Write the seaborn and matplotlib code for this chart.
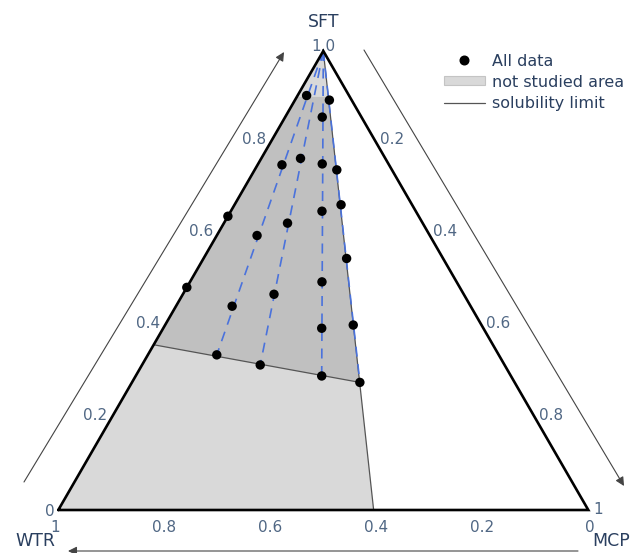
import numpy as np
import pandas as pd
import matplotlib
matplotlib.use("Agg")
import matplotlib.pyplot as plt
import seaborn as sns
from matplotlib.lines import Line2D
from matplotlib.patches import Patch, Polygon

# ---------------- data (ternary fractions) ----------------
sft = [0.903, 0.893, 0.856, 0.752, 0.766, 0.754, 0.741, 0.665, 0.651, 0.625, 0.640, 0.598,
       0.548, 0.485, 0.497, 0.470, 0.444, 0.403, 0.396, 0.338, 0.316, 0.292, 0.278]
mcp = [0.017, 0.065, 0.070, 0.046, 0.074, 0.121, 0.155, 0.201, 0.172, 0.120, 0.000, 0.076,
       0.270, 0.000, 0.249, 0.172, 0.106, 0.355, 0.299, 0.130, 0.223, 0.351, 0.430]
wtr = [0.080, 0.042, 0.074, 0.202, 0.160, 0.125, 0.104, 0.134, 0.177, 0.255, 0.360, 0.326,
       0.182, 0.515, 0.254, 0.358, 0.450, 0.242, 0.305, 0.532, 0.461, 0.357, 0.292]

# not studied area (light) : WTR vertex, SFT vertex, solubility foot on the base
area_sft = [0.0, 1.0, 0.0]
area_mcp = [0.0, 0.0, 0.595]
# studied (darker) region
studied_sft = [0.36, 0.278, 0.90, 0.90]
studied_mcp = [0.0, 0.430, 0.06, 0.0]
# solubility limit lines
sol_right_sft = [1.0, 0.0]
sol_right_mcp = [0.0, 0.595]
sol_bottom_sft = [0.36, 0.278]
sol_bottom_mcp = [0.0, 0.430]
# dashed dilution lines : from SFT apex to these end points
dash_end_sft = [0.338, 0.316, 0.292, 0.278]
dash_end_mcp = [0.130, 0.223, 0.351, 0.430]

tick_values = [0.2, 0.4, 0.6, 0.8]
tick_labels = ["0.2", "0.4", "0.6", "0.8"]

H = np.sqrt(3) / 2


def cart(s, m):
    s = np.asarray(s, float)
    m = np.asarray(m, float)
    return m + s / 2, s * H


# ---------------- figure ----------------
sns.set_theme(style="white")
plt.rcParams["font.family"] = ["DejaVu Sans"]
TICK_C = "#506784"
TITLE_C = "#2a3f5f"

fig = plt.figure(figsize=(6.31, 5.53), dpi=100)
ax = fig.add_axes([0, 0, 1, 1])
S = 530.0  # pixels per unit
ax.set_xlim(-58.3 / S, (631 - 58.3) / S)
ax.set_ylim(-43 / S, 510 / S)
ax.axis("off")

# fills
x, y = cart(area_sft, area_mcp)
ax.add_patch(Polygon(np.c_[x, y], closed=True, facecolor="#d9d9d9", edgecolor="none", zorder=1))
x, y = cart(studied_sft, studied_mcp)
ax.add_patch(Polygon(np.c_[x, y], closed=True, facecolor="#c0c0c0", edgecolor="none", zorder=2))

# solubility limits
x, y = cart(sol_right_sft, sol_right_mcp)
ax.plot(x, y, color="#555555", lw=0.9, zorder=3)
x, y = cart(sol_bottom_sft, sol_bottom_mcp)
ax.plot(x, y, color="#555555", lw=0.9, zorder=3)

# dashed lines
for es, em in zip(dash_end_sft, dash_end_mcp):
    x, y = cart([1.0, es], [0.0, em])
    ax.plot(x, y, color="#4a72dc", lw=1.2, dashes=(6, 4.5), zorder=4)

# triangle edges
x, y = cart([0, 1, 0, 0], [0, 0, 1, 0])
ax.plot(x, y, color="black", lw=1.9, zorder=5, solid_joinstyle="miter")

# data points
px, py = cart(sft, mcp)
df = pd.DataFrame({"x": px, "y": py, "SFT": sft, "MCP": mcp, "WTR": wtr})
sns.scatterplot(data=df, x="x", y="y", color="black", s=46, edgecolor="none",
                ax=ax, zorder=6, legend=False)
ax.set_xlim(-58.3 / S, (631 - 58.3) / S)
ax.set_ylim(-43 / S, 510 / S)
ax.axis("off")

P = 0.72  # px -> pt
FS_T = 11
# left axis (SFT)
for v, lab in zip(tick_values, tick_labels):
    xx, yy = cart([v], [0])
    ax.annotate(lab, (xx[0], yy[0]), xytext=(-4 * P, 3 * P), textcoords="offset points",
                ha="right", va="center", fontsize=FS_T, color=TICK_C)
xx, yy = cart([0], [0])
ax.annotate("0", (xx[0], yy[0]), xytext=(-4 * P, -1 * P), textcoords="offset points",
            ha="right", va="center", fontsize=FS_T, color=TICK_C)
xx, yy = cart([1], [0])
ax.annotate("1.0", (xx[0], yy[0]), xytext=(0, 5 * P), textcoords="offset points",
            ha="center", va="center", fontsize=FS_T, color=TICK_C)
# right axis (MCP)
for v, lab in zip(tick_values, tick_labels):
    xx, yy = cart([1 - v], [v])
    ax.annotate(lab, (xx[0], yy[0]), xytext=(4 * P, 3 * P), textcoords="offset points",
                ha="left", va="center", fontsize=FS_T, color=TICK_C)
xx, yy = cart([0], [1])
ax.annotate("1", (xx[0], yy[0]), xytext=(5 * P, 0), textcoords="offset points",
            ha="left", va="center", fontsize=FS_T, color=TICK_C)
# bottom axis (WTR)
for v, lab in zip(tick_values, tick_labels):
    xx, yy = cart([0], [1 - v])
    ax.annotate(lab, (xx[0], yy[0]), xytext=(0, -17 * P), textcoords="offset points",
                ha="center", va="center", fontsize=FS_T, color=TICK_C)
xx, yy = cart([0], [0])
ax.annotate("1", (xx[0], yy[0]), xytext=(-3 * P, -17 * P), textcoords="offset points",
            ha="center", va="center", fontsize=FS_T, color=TICK_C)
xx, yy = cart([0], [1])
ax.annotate("0", (xx[0], yy[0]), xytext=(2 * P, -17 * P), textcoords="offset points",
            ha="center", va="center", fontsize=FS_T, color=TICK_C)

# axis titles
FS_A = 12.5
xx, yy = cart([1], [0])
ax.annotate("SFT", (xx[0], yy[0]), xytext=(0.8 * P, 29.5 * P), textcoords="offset points",
            ha="center", va="center", fontsize=FS_A, color=TITLE_C)
xx, yy = cart([0], [0])
ax.annotate("WTR", (xx[0], yy[0]), xytext=(-23 * P, -31.5 * P), textcoords="offset points",
            ha="center", va="center", fontsize=FS_A, color=TITLE_C)
xx, yy = cart([0], [1])
ax.annotate("MCP", (xx[0], yy[0]), xytext=(23 * P, -31.5 * P), textcoords="offset points",
            ha="center", va="center", fontsize=FS_A, color=TITLE_C)


# arrows (pixel positions of the decorations)
def pix(px_, py_):
    return ((px_ - 58.3) / S, (510 - py_) / S)


arrow_kw = dict(arrowstyle="-|>", color="#444444", lw=0.8, mutation_scale=13,
                shrinkA=0, shrinkB=0)
ax.annotate("", xy=pix(284, 52), xytext=pix(24, 482), arrowprops=arrow_kw)
ax.annotate("", xy=pix(624, 486), xytext=pix(364, 50), arrowprops=arrow_kw)
ax.annotate("", xy=pix(68, 551), xytext=pix(578, 551), arrowprops=arrow_kw)

# legend
handles = [
    Line2D([], [], marker="o", linestyle="none", color="black", markersize=6.2),
    Patch(facecolor="#d9d9d9", edgecolor="#c4c4c4", linewidth=0.8),
    Line2D([], [], color="#555555", lw=0.9),
]
labels = ["All data", "not studied area", "solubility limit"]
leg = ax.legend(handles, labels, loc="upper left", bbox_to_anchor=(444 / 631, 1 - 53.5 / 553),
                bbox_transform=fig.transFigure, frameon=False, borderpad=0, borderaxespad=0,
                fontsize=11.5, handlelength=2.56, handletextpad=0.44, labelspacing=0.38,
                handleheight=0.5)
for t in leg.get_texts():
    t.set_color(TITLE_C)

fig.savefig("out.png", dpi=100)
